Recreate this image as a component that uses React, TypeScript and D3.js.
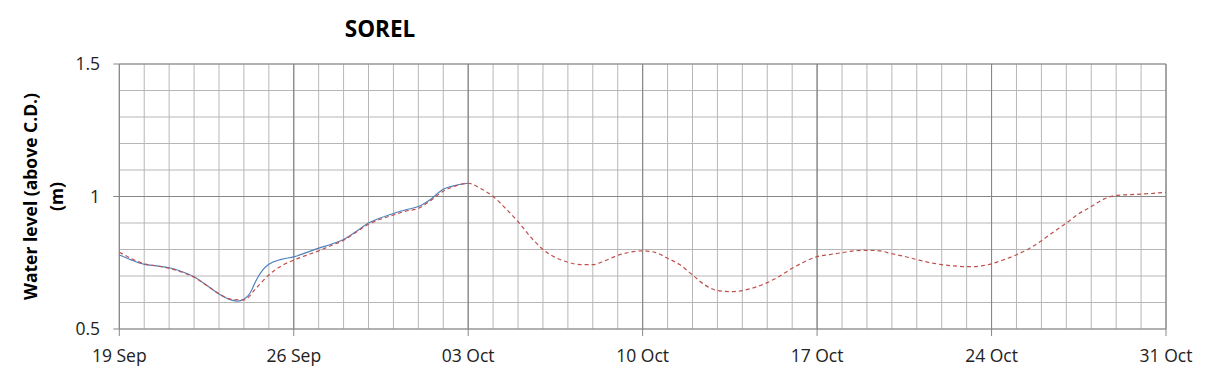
import React from "react";
import * as d3 from "d3";

const chartTitle = "SOREL";
const yTitle1 = "Water level (above C.D.)";
const yTitle2 = "(m)";
const startDate = new Date(2019, 8, 19);
const endDate = new Date(2019, 9, 31);
const yTicks = [0.5, 1, 1.5];

const forecastDays = [0,0.5,1,1.5,2,2.5,3,3.5,4,4.5,5,5.5,6,6.5,7,7.5,8,8.5,9,9.5,10,10.5,11,11.5,12,12.5,13,13.5,14,14.5,15,15.5,16,16.5,17,17.5,18,18.5,19,19.5,20,20.5,21,21.5,22,22.5,23,23.5,24,24.5,25,25.5,26,26.5,27,27.5,28,28.5,29,29.5,30,30.5,31,31.5,32,32.5,33,33.5,34,34.5,35,35.5,36,36.5,37,37.5,38,38.5,39,39.5,40,40.5,41,41.5,42];
const forecastLevels = [0.79,0.765,0.746,0.738,0.729,0.715,0.695,0.665,0.633,0.612,0.61,0.655,0.704,0.738,0.76,0.778,0.795,0.815,0.835,0.865,0.895,0.915,0.93,0.945,0.955,0.985,1.02,1.04,1.05,1.03,1.0,0.955,0.905,0.848,0.8,0.77,0.752,0.743,0.743,0.758,0.778,0.79,0.795,0.789,0.767,0.742,0.704,0.666,0.645,0.641,0.645,0.657,0.675,0.7,0.729,0.754,0.773,0.781,0.788,0.795,0.797,0.795,0.784,0.774,0.762,0.751,0.743,0.738,0.735,0.737,0.746,0.762,0.78,0.803,0.833,0.867,0.9,0.935,0.962,0.99,1.004,1.007,1.009,1.012,1.016];

const observedDays = [0,0.5,1,1.5,2,2.5,3,3.5,4,4.5,4.75,5,5.25,5.5,5.75,6,6.5,7,7.5,8,8.5,9,9.5,10,10.5,11,11.5,12,12.5,13,13.5,14];
const observedLevels = [0.779,0.76,0.744,0.738,0.731,0.717,0.697,0.665,0.632,0.609,0.605,0.612,0.636,0.685,0.722,0.744,0.763,0.772,0.788,0.805,0.82,0.838,0.868,0.9,0.92,0.936,0.95,0.962,0.99,1.027,1.042,1.05];

const W = 1209, H = 378;
const M = { left: 119.3, right: 1166, top: 64, bottom: 329 };
const FONT = "'Open Sans', 'Noto Sans', sans-serif";

export default function App() {
  const x = d3.scaleTime().domain([startDate, endDate]).range([M.left, M.right]);
  const y = d3.scaleLinear().domain([0.5, 1.5]).range([M.bottom, M.top]);
  const dayToDate = (d: number) => new Date(startDate.getTime() + d * 86400000);

  const dayLines = d3.timeDay.range(startDate, d3.timeDay.offset(endDate, 1));
  const weekTicksAll = dayLines.filter((d, i) => i % 7 === 0);
  const minorY = d3.range(5, 16).map((v) => v / 10);
  const fmt = d3.timeFormat("%d %b");

  const line = d3
    .line<[number, number]>()
    .x((d) => x(dayToDate(d[0])))
    .y((d) => y(d[1]))
    .curve(d3.curveMonotoneX);

  const forecast = forecastDays.map((d, i) => [d, forecastLevels[i]] as [number, number]);
  const observed = observedDays.map((d, i) => [d, observedLevels[i]] as [number, number]);

  const minor = "#b7b7b7";
  const major = "#878787";

  return (
    <svg width={W} height={H} style={{ position: "absolute", left: 0, top: 0, background: "#fff" }}>
      {minorY.map((v) => (
        <line key={"hy" + v} x1={M.left} x2={M.right} y1={y(v)} y2={y(v)} stroke={minor} strokeWidth={1} />
      ))}
      {dayLines.map((d, i) => (
        <line key={"vx" + i} x1={x(d)} x2={x(d)} y1={M.top} y2={M.bottom} stroke={i % 7 === 0 ? major : minor} strokeWidth={1} />
      ))}
      {yTicks.map((v) => (
        <line key={"my" + v} x1={M.left - 6} x2={M.right} y1={y(v)} y2={y(v)} stroke={major} strokeWidth={1} />
      ))}
      {weekTicksAll.map((d, i) => (
        <line key={"xt" + i} x1={x(d)} x2={x(d)} y1={M.top} y2={M.bottom + 7} stroke={major} strokeWidth={1} />
      ))}
      {yTicks.map((v) => (
        <text key={"yl" + v} x={100} y={y(v)} dy="0.35em" textAnchor="end" fontFamily={FONT} fontSize={17.5} fill="#222">
          {d3.format("")(v)}
        </text>
      ))}
      {weekTicksAll.map((d, i) => (
        <text key={"xl" + i} x={x(d)} y={362} textAnchor="middle" fontFamily={FONT} fontSize={17.5} fill="#222">
          {fmt(d)}
        </text>
      ))}
      <path d={line(observed) || ""} fill="none" stroke="#4F81BD" strokeWidth={1.2} />
      <path d={line(forecast) || ""} fill="none" stroke="#C0504D" strokeWidth={1.2} strokeDasharray="4,3" />
      <text x={380} y={37} textAnchor="middle" fontFamily={FONT} fontWeight="bold" fontSize={22.5} fill="#000">
        {chartTitle}
      </text>
      <g transform={`translate(31,${(M.top + M.bottom) / 2}) rotate(-90)`}>
        <text x={0} y={0} dy="0.35em" textAnchor="middle" fontFamily={FONT} fontWeight="bold" fontSize={17.5} fill="#000">
          {yTitle1}
        </text>
      </g>
      <g transform={`translate(57,${(M.top + M.bottom) / 2}) rotate(-90)`}>
        <text x={0} y={0} dy="0.35em" textAnchor="middle" fontFamily={FONT} fontWeight="bold" fontSize={17.5} fill="#000">
          {yTitle2}
        </text>
      </g>
    </svg>
  );
}
